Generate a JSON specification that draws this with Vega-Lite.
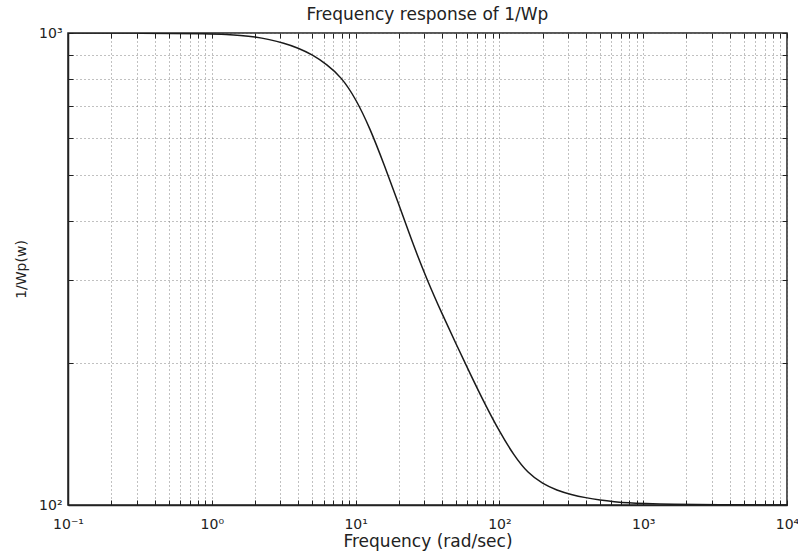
{
  "$schema": "https://vega.github.io/schema/vega-lite/v6.json",
  "autosize": {"type": "none"},
  "padding": {"left": 68, "top": 33, "right": 11, "bottom": 50},
  "width": 719,
  "height": 472,
  "background": "white",
  "title": {"text": "Frequency response of 1/Wp", "fontSize": 17, "fontWeight": "normal", "font": "DejaVu Sans", "color": "#222", "offset": 2, "anchor": "middle"},
  "config": {
    "view": {"stroke": "#222", "strokeWidth": 1.5},
    "axis": {
      "labelFont": "DejaVu Sans", "titleFont": "DejaVu Sans",
      "labelFontSize": 14, "titleFontSize": 17, "titleFontWeight": "normal",
      "labelColor": "#222", "titleColor": "#222",
      "domainColor": "#222", "domainWidth": 1.5,
      "gridColor": "#777", "gridDash": [1, 3], "gridWidth": 1, "gridOpacity": 0.9,
      "tickColor": "#222", "tickWidth": 1
    }
  },
  "data": {"values": [
    {"w": 0.1, "v": 1000}, {"w": 0.32, "v": 999.9}, {"w": 1, "v": 996.6}, {"w": 1.26, "v": 993.1},
    {"w": 1.58, "v": 988.6}, {"w": 2, "v": 981.8}, {"w": 2.51, "v": 968.8}, {"w": 3.16, "v": 952.2},
    {"w": 3.98, "v": 930.0}, {"w": 5.01, "v": 899.5}, {"w": 6.31, "v": 858.0}, {"w": 7.94, "v": 807.2},
    {"w": 10, "v": 727.1}, {"w": 12.6, "v": 628.1}, {"w": 15.8, "v": 526.0}, {"w": 20, "v": 433.0},
    {"w": 25.1, "v": 356.5}, {"w": 31.6, "v": 298.5}, {"w": 39.8, "v": 254.7}, {"w": 50.1, "v": 219.0},
    {"w": 63.1, "v": 188.8}, {"w": 79.4, "v": 163.5}, {"w": 100, "v": 143.1}, {"w": 126, "v": 127.4},
    {"w": 158, "v": 116.7}, {"w": 200, "v": 110.9}, {"w": 251, "v": 107.4}, {"w": 316, "v": 105.2},
    {"w": 398, "v": 103.6}, {"w": 501, "v": 102.4}, {"w": 631, "v": 101.6}, {"w": 794, "v": 101.0},
    {"w": 1000, "v": 100.7}, {"w": 1585, "v": 100.3}, {"w": 3162, "v": 100.1}, {"w": 10000, "v": 100}
  ]},
  "resolve": {"axis": {"x": "independent", "y": "independent"}},
  "layer": [
    {
      "mark": {"type": "line", "color": "#1a1a1a", "strokeWidth": 1.5, "interpolate": "basis", "clip": true},
      "encoding": {
        "x": {
          "field": "w", "type": "quantitative",
          "scale": {"type": "log", "domain": [0.1, 10000], "nice": false},
          "axis": {
            "title": "Frequency (rad/sec)", "titlePadding": 2,
            "values": [0.1,0.2,0.3,0.4,0.5,0.6,0.7,0.8,0.9,1,2,3,4,5,6,7,8,9,10,20,30,40,50,60,70,80,90,100,200,300,400,500,600,700,800,900,1000,2000,3000,4000,5000,6000,7000,8000,9000,10000],
            "labelExpr": "abs(log(datum.value)/LN10 - round(log(datum.value)/LN10)) < 1e-6 ? (round(log(datum.value)/LN10) == -1 ? '10⁻¹' : round(log(datum.value)/LN10) == 0 ? '10⁰' : round(log(datum.value)/LN10) == 1 ? '10¹' : round(log(datum.value)/LN10) == 2 ? '10²' : round(log(datum.value)/LN10) == 3 ? '10³' : '10⁴') : ''",
            "labelPadding": 17, "labelFlush": false, "labelOverlap": false,
            "tickSize": -5
          }
        },
        "y": {
          "field": "v", "type": "quantitative",
          "scale": {"type": "log", "domain": [100, 1000], "nice": false},
          "axis": {
            "title": "1/Wp(w)", "titlePadding": 10, "titleFontSize": 14,
            "values": [100,200,300,400,500,600,700,800,900,1000],
            "labelExpr": "datum.value == 100 ? '10²' : datum.value == 1000 ? '10³' : ''",
            "labelPadding": 11, "labelFlush": false, "labelOverlap": false,
            "tickSize": -5
          }
        }
      }
    },
    {
      "mark": {"type": "line", "opacity": 0},
      "encoding": {
        "x": {
          "field": "w", "type": "quantitative",
          "scale": {"type": "log", "domain": [0.1, 10000], "nice": false},
          "axis": {
            "orient": "top", "title": null, "labels": false, "grid": false, "domain": false,
            "values": [0.1,0.2,0.3,0.4,0.5,0.6,0.7,0.8,0.9,1,2,3,4,5,6,7,8,9,10,20,30,40,50,60,70,80,90,100,200,300,400,500,600,700,800,900,1000,2000,3000,4000,5000,6000,7000,8000,9000,10000],
            "tickSize": -5
          }
        },
        "y": {
          "field": "v", "type": "quantitative",
          "scale": {"type": "log", "domain": [100, 1000], "nice": false},
          "axis": {
            "orient": "right", "title": null, "labels": false, "grid": false, "domain": false,
            "values": [100,200,300,400,500,600,700,800,900,1000],
            "tickSize": -5
          }
        }
      }
    }
  ]
}
